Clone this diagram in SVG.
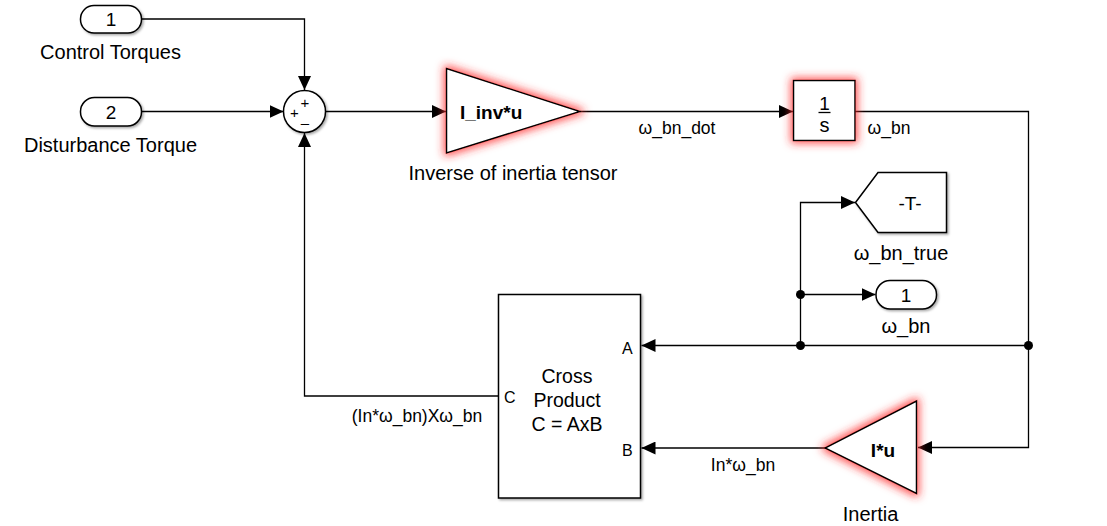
<svg xmlns="http://www.w3.org/2000/svg" width="1107" height="526" viewBox="0 0 1107 526">
<style>
text{font-family:"Liberation Sans",Arial,sans-serif;fill:#000}
.blk{fill:#fff;stroke:#000;stroke-width:1.5}
.ln{fill:none;stroke:#000;stroke-width:1.3}
.lbl{font-size:20px;text-anchor:middle}
.sig{font-size:17.5px;text-anchor:middle}
.in{font-size:19px;text-anchor:middle}
.port{font-size:16px}
.sgn{font-size:15px;text-anchor:middle}
.bold{font-weight:bold}
</style>
<defs>
<marker id="arr" markerUnits="userSpaceOnUse" markerWidth="15" markerHeight="13" refX="14" refY="6.5" orient="auto">
<path d="M0,0 L14,6.5 L0,13 z" fill="#000"/>
</marker>
<filter id="sh" x="-20%" y="-20%" width="140%" height="140%">
<feDropShadow dx="1.5" dy="1.5" stdDeviation="1" flood-color="#000" flood-opacity="0.35"/>
</filter>
<filter id="glow" x="-30%" y="-40%" width="160%" height="180%">
<feMorphology in="SourceAlpha" operator="dilate" radius="2" result="d"/>
<feGaussianBlur in="d" stdDeviation="4" result="b"/>
<feFlood flood-color="#ff2a2a" flood-opacity="0.8"/>
<feComposite in2="b" operator="in" result="g"/>
<feMerge><feMergeNode in="g"/><feMergeNode in="SourceGraphic"/></feMerge>
</filter>
</defs>

<g id="connectors">
<path class="ln" d="M141,19 H304.5 V90" marker-end="url(#arr)"/>
<path class="ln" d="M141,111.5 H283.5" marker-end="url(#arr)"/>
<path class="ln" d="M325.5,111.5 H446" marker-end="url(#arr)"/>
<path class="ln" d="M580,111.5 H793" marker-end="url(#arr)"/>
<path class="ln" d="M855,111.5 H1028.5 V447.5 H918" marker-end="url(#arr)"/>
<path class="ln" d="M1028.5,345.5 H641.5" marker-end="url(#arr)"/>
<path class="ln" d="M800.5,345.5 V202.5 H855" marker-end="url(#arr)"/>
<path class="ln" d="M800.5,294.5 H875.5" marker-end="url(#arr)"/>
<path class="ln" d="M825,448 H641.5" marker-end="url(#arr)"/>
<path class="ln" d="M498,396 H304.5 V133" marker-end="url(#arr)"/>
<circle cx="800.5" cy="294.5" r="4.5" fill="#000"/>
<circle cx="800.5" cy="345.5" r="4.5" fill="#000"/>
<circle cx="1028.5" cy="345.5" r="4.5" fill="#000"/>
<text class="sig" x="677" y="134">ω_bn_dot</text>
<text class="sig" x="889" y="134">ω_bn</text>
<text class="sig" x="417" y="422">(In*ω_bn)Xω_bn</text>
<text class="sig" x="743" y="471">In*ω_bn</text>
</g>

<g id="inport1">
<rect class="blk" x="80.5" y="5.5" width="61" height="27.5" rx="13.5" filter="url(#sh)"/>
<text class="in" x="111" y="26">1</text>
<text class="lbl" x="110.5" y="59">Control Torques</text>
</g>

<g id="inport2">
<rect class="blk" x="80.5" y="97.5" width="61" height="28.5" rx="14" filter="url(#sh)"/>
<text class="in" x="111" y="118.5">2</text>
<text class="lbl" x="110.5" y="152">Disturbance Torque</text>
</g>

<g id="sum">
<circle class="blk" cx="304.5" cy="111.5" r="21" filter="url(#sh)"/>
<text class="sgn" x="305" y="108">+</text>
<text class="sgn" x="294.5" y="118">+</text>
<text class="sgn" x="305" y="127.5">–</text>
</g>

<g id="gain_inv">
<polygon class="blk" points="446.5,68.5 580,111.5 446.5,153" filter="url(#glow)"/>
<text x="460" y="118.5" font-size="19" class="bold">I_inv*u</text>
<text class="lbl" x="513" y="180">Inverse of inertia tensor</text>
</g>

<g id="integrator">
<rect class="blk" x="793.5" y="80.5" width="61.5" height="60" filter="url(#glow)"/>
<text x="824.5" y="110" font-size="19" text-anchor="middle">1</text>
<line x1="818.5" y1="112.5" x2="830.5" y2="112.5" stroke="#000" stroke-width="1.3"/>
<text x="824.5" y="132" font-size="20" text-anchor="middle">s</text>
</g>

<g id="goto">
<polygon class="blk" points="855.5,202.5 878,172.5 946.5,172.5 946.5,232.5 878,232.5" filter="url(#sh)"/>
<text x="910" y="209.5" font-size="19" text-anchor="middle">-T-</text>
<text class="lbl" x="901" y="260">ω_bn_true</text>
</g>

<g id="outport1">
<rect class="blk" x="876" y="280.5" width="60.5" height="28.5" rx="14" filter="url(#sh)"/>
<text class="in" x="906" y="301.5">1</text>
<text class="lbl" x="906" y="333">ω_bn</text>
</g>

<g id="cross">
<rect class="blk" x="498.5" y="294.5" width="142" height="203.5" filter="url(#sh)"/>
<text class="port" x="622" y="354">A</text>
<text class="port" x="622" y="456">B</text>
<text class="port" x="504" y="403">C</text>
<text x="567" y="382.5" font-size="19.5" text-anchor="middle">Cross</text>
<text x="567" y="406.5" font-size="19.5" text-anchor="middle">Product</text>
<text x="567" y="431" font-size="19.5" text-anchor="middle">C = AxB</text>
</g>

<g id="gain_inertia">
<polygon class="blk" points="916.5,401 825,448 916.5,493.5" filter="url(#glow)"/>
<text x="883" y="456.5" font-size="19" class="bold" text-anchor="middle">I*u</text>
<text class="lbl" x="870.5" y="521">Inertia</text>
</g>
</svg>
